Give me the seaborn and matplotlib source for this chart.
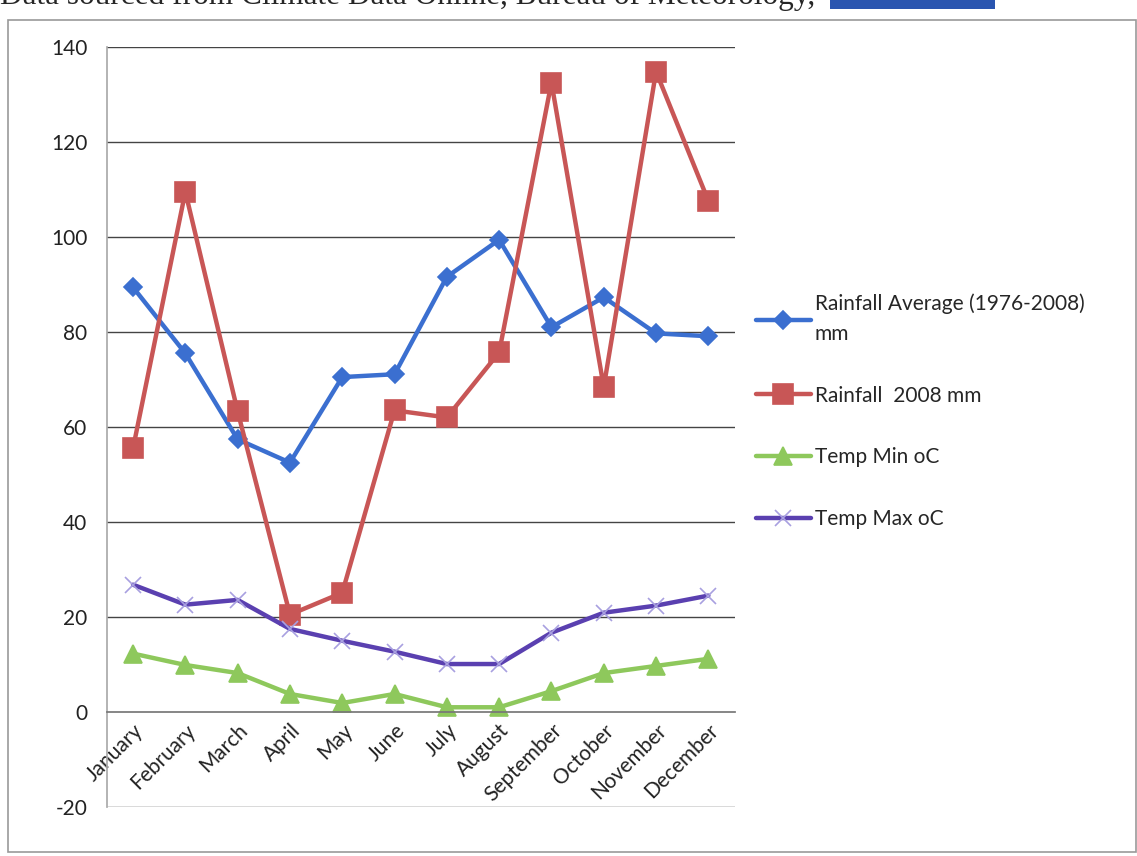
import pandas as pd
import matplotlib.pyplot as plt
import seaborn as sns
from matplotlib.patches import Rectangle

# ----------------------------
# Data
# ----------------------------
months = ["January", "February", "March", "April", "May", "June", "July",
          "August", "September", "October", "November", "December"]
rain_avg = [89.4, 75.5, 57.4, 52.5, 70.5, 71.1, 91.6, 99.4, 81.0, 87.3, 79.7, 79.1]
rain_2008 = [55.5, 109.5, 63.3, 20.5, 25.1, 63.5, 62.0, 75.7, 132.5, 68.4, 134.8, 107.6]
temp_min = [12.3, 9.9, 8.2, 3.8, 1.9, 3.8, 1.0, 1.0, 4.4, 8.2, 9.7, 11.2]
temp_max = [26.8, 22.6, 23.6, 17.5, 15.0, 12.7, 10.1, 10.1, 16.7, 20.9, 22.4, 24.5]

labels = ["Rainfall Average (1976-2008)\nmm", "Rainfall  2008 mm",
          "Temp Min oC", "Temp Max oC"]
yticks = [-20, 0, 20, 40, 60, 80, 100, 120, 140]

series = [
    (rain_avg, labels[0], "#3b6fd0", "D", 9, "#3b6fd0"),
    (rain_2008, labels[1], "#c85656", "s", 15, "#c85656"),
    (temp_min, labels[2], "#8ec85c", "^", 13, "#8ec85c"),
    (temp_max, labels[3], "#5a40b0", "x", 11, "#a8a0e0"),
]

# ----------------------------
# Plot
# ----------------------------
sns.set_theme(style="white")
plt.rcParams['font.family'] = ['Lato', 'DejaVu Sans']

fig = plt.figure(figsize=(11.37, 8.56), dpi=100)
ax = fig.add_axes([0.094, 0.0572, 0.552, 0.888])

for vals, lab, col, mk, ms, mcol in series:
    df = pd.DataFrame({"month": months, "value": vals})
    sns.lineplot(data=df, x="month", y="value", ax=ax, color=col, lw=3.2,
                 marker=mk, markersize=ms, markerfacecolor=mcol,
                 markeredgecolor=mcol, markeredgewidth=1.2, label=lab,
                 sort=False)

# spine moves first: set_position resets the ticks
ax.spines["bottom"].set_position(("data", 0))
ax.spines["bottom"].set_color("#777777")
ax.spines["left"].set_color("#aaaaaa")
ax.spines["top"].set_visible(False)
ax.spines["right"].set_visible(False)

ax.set_ylim(-20, 140)
ax.set_xlim(-0.5, 11.5)
ax.set_yticks(yticks)
ax.set_yticklabels([str(v) for v in yticks], fontsize=15, color="#222222")
for v in yticks:
    if v != 0:
        ax.axhline(v, color="#444444", lw=1.0, zorder=0)

ax.set_xticks(range(len(months)))
ax.set_xticks([i + 0.5 for i in range(-1, 12)], minor=True)
ax.tick_params(axis="x", which="major", length=0, pad=6)
ax.tick_params(axis="x", which="minor", length=5, color="#888888", direction="out")
ax.tick_params(axis="y", length=0, pad=14)
ax.set_xticklabels(months, fontsize=15, color="#222222", rotation=45,
                   ha="right", rotation_mode="anchor")
ax.set_xlabel("")
ax.set_ylabel("")

leg = ax.legend(loc="upper left", bbox_to_anchor=(1.005, 0.70), frameon=False,
                fontsize=15, labelspacing=2.0, handlelength=2.6,
                handletextpad=0.2)
for h in leg.legend_handles:
    h.set_linewidth(3.2)
for t in leg.get_texts():
    t.set_linespacing(1.6)

# chart border and the caption line cut off above the chart
fig.patches.append(Rectangle((0.007, 0.005), 0.992, 0.972, transform=fig.transFigure,
                             fill=False, edgecolor="#999999", lw=1.2))
fig.text(0.0, 1.004, "Data sourced from Climate Data Online, Bureau of Meteorology, ",
         fontsize=22.5, family="Liberation Serif", va="center", ha="left")
fig.patches.append(Rectangle((0.73, 0.99), 0.145, 0.015, transform=fig.transFigure,
                             facecolor="#2a55b0", edgecolor="none"))

fig.savefig("out.png", dpi=100)
